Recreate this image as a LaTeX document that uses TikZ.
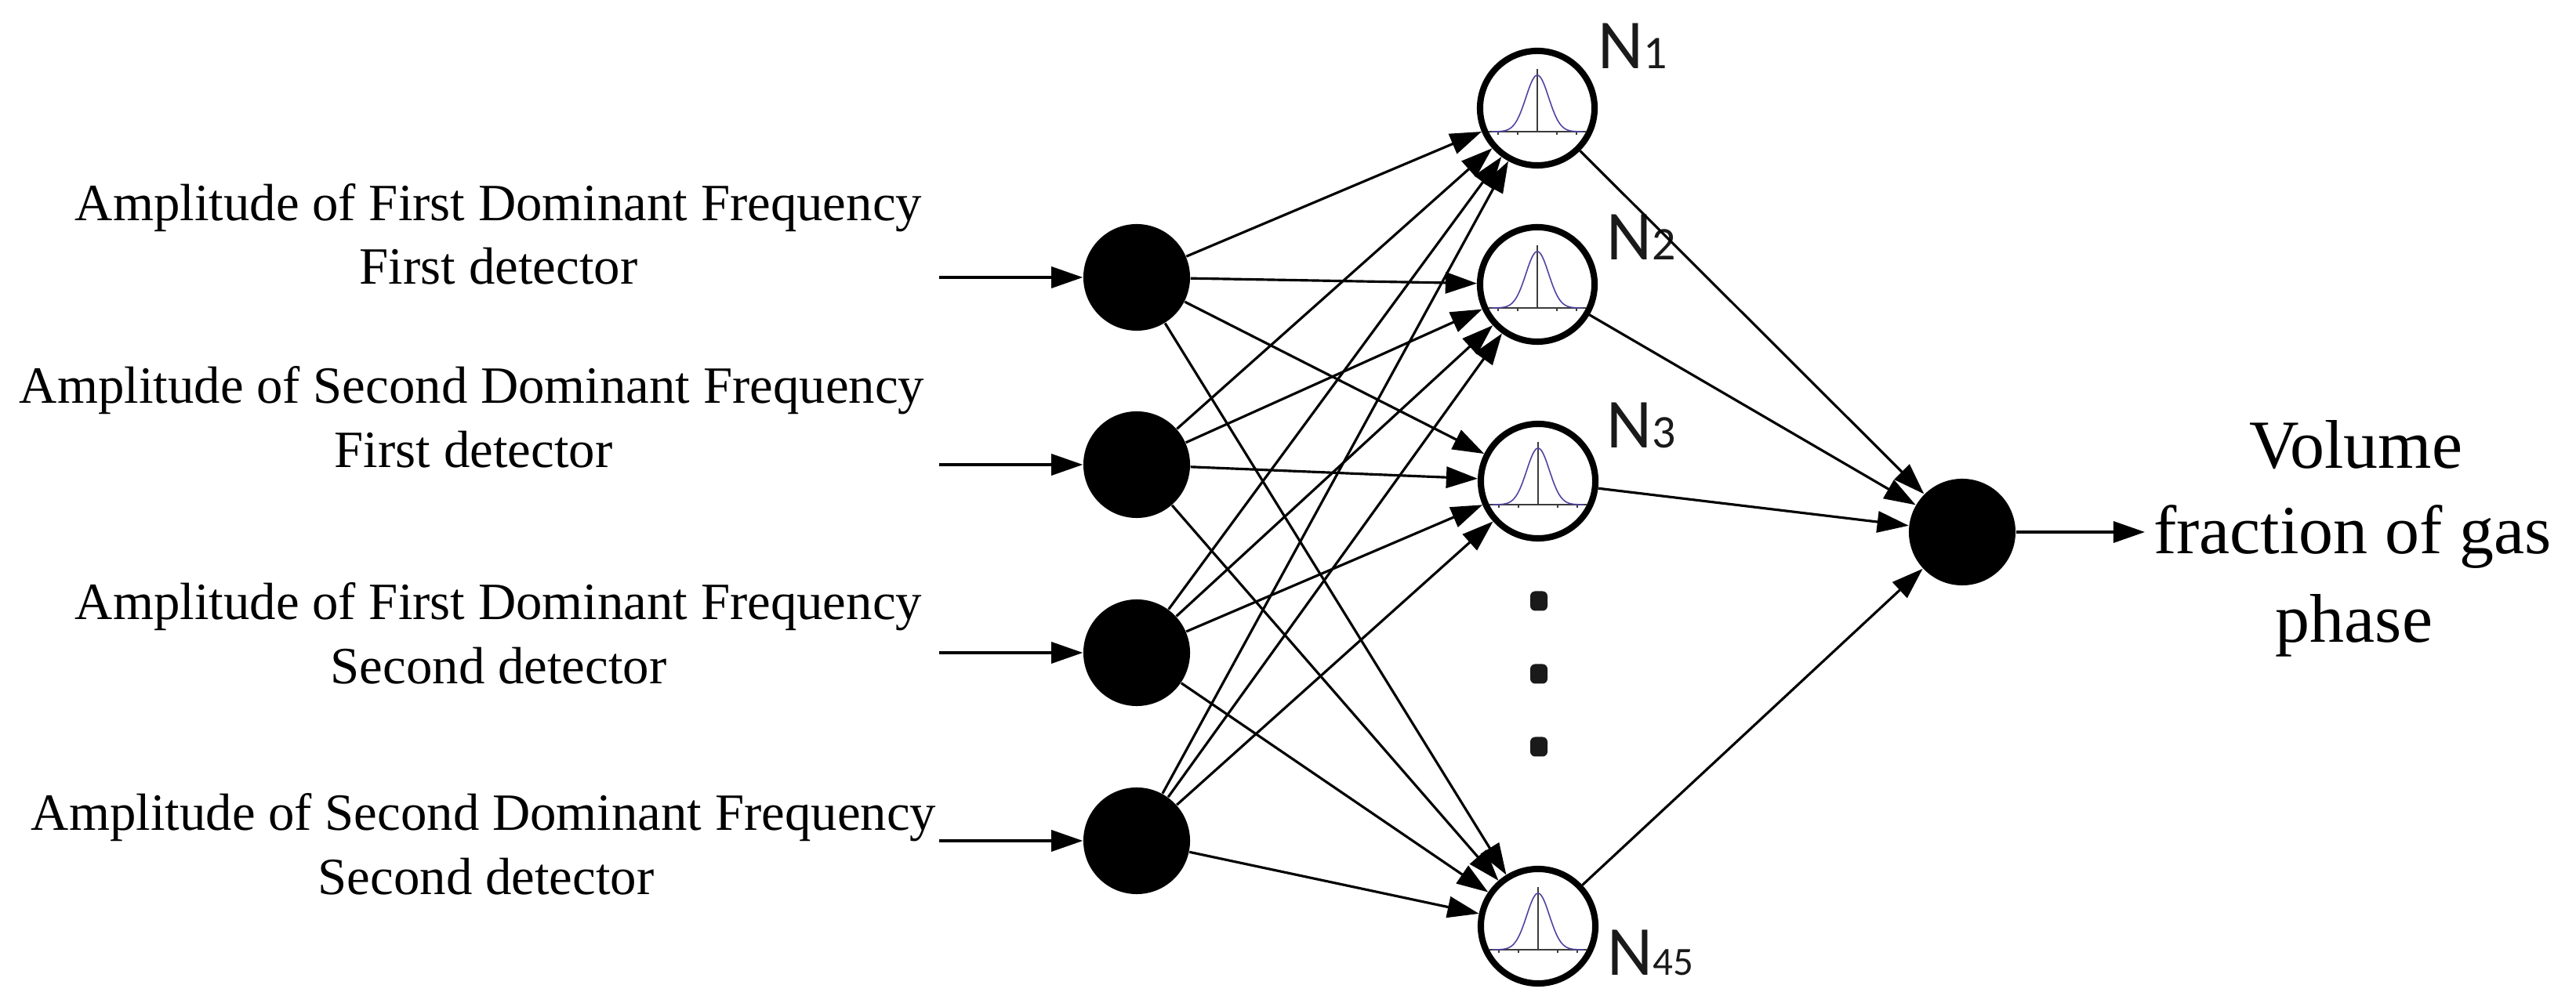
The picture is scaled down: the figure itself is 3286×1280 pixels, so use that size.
\documentclass[tikz,border=0pt]{standalone}
\usepackage{fontspec}
\setmainfont{Liberation Serif}
\newfontfamily\nfont{Carlito}
\usetikzlibrary{arrows.meta}
\definecolor{gausscol}{RGB}{78,68,160}
\definecolor{axiscol}{RGB}{60,60,60}
\definecolor{dotcol}{RGB}{26,26,26}
\begin{document}
\begin{tikzpicture}[x=0.01cm,y=-0.01cm,
  conn/.style={line width=0.9pt,-{Triangle[length=11.4pt,width=7.7pt]}},
  inode/.style={circle,fill=black,draw=none,minimum size=1.36cm,inner sep=0pt},
  hnode/.style={circle,draw=black,fill=white,line width=2.3pt,minimum size=1.46cm,inner sep=0pt},
  lbl/.style={inner sep=0pt,anchor=base,font=\fontsize{19pt}{23pt}\selectfont},
  outlbl/.style={inner sep=0pt,anchor=base,font=\fontsize{25pt}{31pt}\selectfont},
  nlbl/.style={inner sep=0pt,anchor=base west,text=dotcol,font=\nfont\fontsize{25.5pt}{30pt}\selectfont},
  dotbox/.style={rectangle,rounded corners=1.8pt,fill=dotcol,draw=none,minimum width=0.22cm,minimum height=0.25cm,inner sep=0pt},
  gaxis/.style={draw=axiscol,line width=0.35pt},
  gcurve/.style={draw=gausscol,line width=0.45pt}
]
\useasboundingbox (0,0) rectangle (3286,1280);

% input labels
\node[lbl] (l1a) at (636,282) {Amplitude of First Dominant Frequency};
\node[lbl] (l1b) at (636,363) {First detector};
\node[lbl] (l2a) at (602,515) {Amplitude of Second Dominant Frequency};
\node[lbl] (l2b) at (604,597) {First detector};
\node[lbl] (l3a) at (636,791) {Amplitude of First Dominant Frequency};
\node[lbl] (l3b) at (636,873) {Second detector};
\node[lbl] (l4a) at (617,1060) {Amplitude of Second Dominant Frequency};
\node[lbl] (l4b) at (620,1142) {Second detector};

% input nodes
\node[inode] (i1) at (1450,354) {};
\node[inode] (i2) at (1450,593) {};
\node[inode] (i3) at (1450,833) {};
\node[inode] (i4) at (1450,1073) {};

\coordinate (s1) at (1198,354);
\coordinate (s2) at (1198,593);
\coordinate (s3) at (1198,833);
\coordinate (s4) at (1198,1073);

% hidden nodes
\node[hnode] (h1) at (1961,138) {};
\node[hnode] (h2) at (1961,363) {};
\node[hnode] (h3) at (1962,614) {};
\node[hnode] (h4) at (1962,1182) {};

\foreach \n in {h1,h2,h3,h4}{
  \begin{scope}[shift={(\n.center)}]
    \draw[gaxis] (-62,30) -- (62,30);
    \draw[gaxis] (0,30) -- (0,-50);
    \foreach \t in {-50,-25,25,50}{\draw[gaxis] (\t,30) -- (\t,34);}
    \draw[gcurve] plot[domain=-58:58,samples=80,smooth] (\x,{30-72*exp(-(\x)*(\x)/420.5)});
  \end{scope}
}

% hidden labels
\node[nlbl] (n1) at (2038,88) {N{\fontsize{17pt}{17pt}\selectfont 1}};
\node[nlbl] (n2) at (2049,332) {N{\fontsize{17pt}{17pt}\selectfont 2}};
\node[nlbl] (n3) at (2049,572) {N{\fontsize{17pt}{17pt}\selectfont 3}};
\node[nlbl] (n4) at (2050,1245) {N{\fontsize{14.5pt}{15pt}\selectfont 45}};

% dots
\node[dotbox] (d1) at (1963,767) {};
\node[dotbox] (d2) at (1963,860) {};
\node[dotbox] (d3) at (1963,953) {};

% output
\node[inode] (out) at (2503,679) {};
\coordinate (oend) at (2736,679);

\node[outlbl] (o1) at (3005,598) {Volume};
\node[outlbl] (o2) at (3001,707) {fraction of gas};
\node[outlbl] (o3) at (3003,820) {phase};

% connectors
\foreach \i in {1,2,3,4}{
  \draw[conn] (s\i) -- (i\i);
  \foreach \j in {1,2,3,4}{
    \draw[conn] (i\i) -- (h\j);
  }
}
\foreach \j in {1,2,3,4}{
  \draw[conn] (h\j) -- (out);
}
\draw[conn] (out) -- (oend);
\end{tikzpicture}
\end{document}
